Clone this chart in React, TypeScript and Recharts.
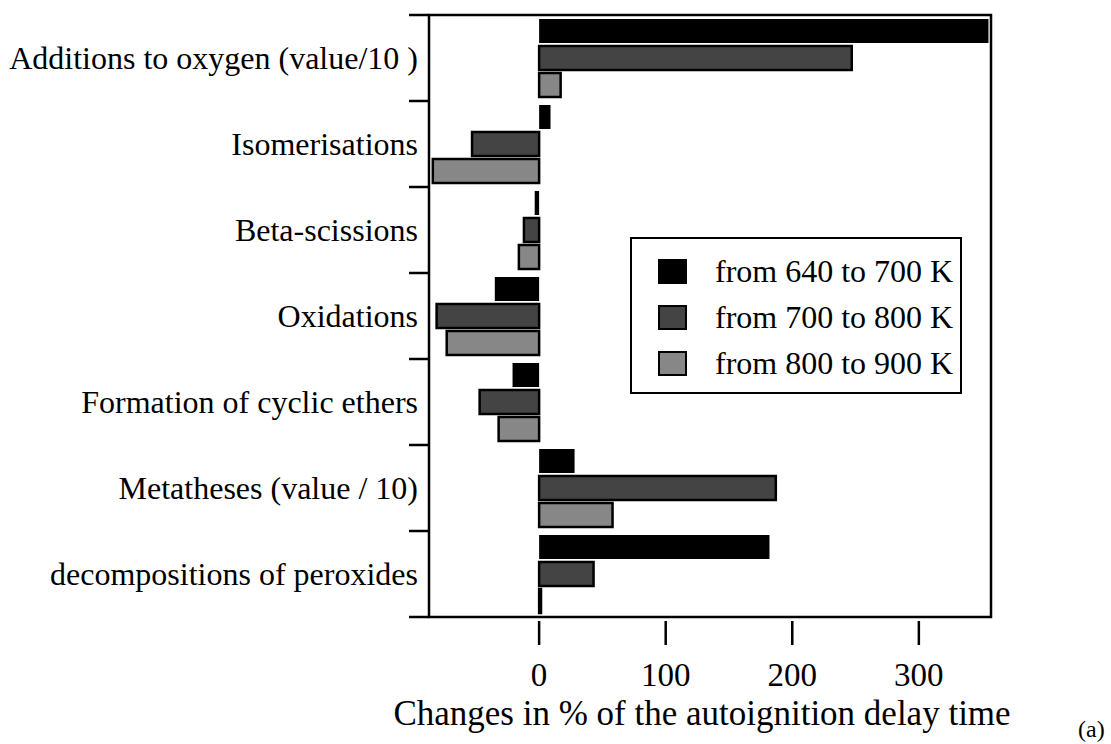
import {
  Bar,
  BarChart,
  Legend,
  ReferenceArea,
  XAxis,
  YAxis,
} from "recharts";

const categories = [
  "Additions to oxygen (value/10 )",
  "Isomerisations",
  "Beta-scissions",
  "Oxidations",
  "Formation of cyclic ethers",
  "Metatheses (value / 10)",
  "decompositions of peroxides",
];

// changes in % for each temperature range
const from640to700 = [355, 9, -3.5, -35, -21, 28, 182];
const from700to800 = [247, -53, -12, -81, -47, 187, 43];
const from800to900 = [17, -84, -16, -73, -32, 58, 1.5];

const xTicks = [0, 100, 200, 300];

const series = [
  { key: "a", name: "from 640 to 700 K", fill: "#000000", stroke: "none" },
  { key: "b", name: "from 700 to 800 K", fill: "#444444", stroke: "#000000" },
  { key: "c", name: "from 800 to 900 K", fill: "#878787", stroke: "#000000" },
];

const data = categories.map((name, i) => ({
  name,
  a: from640to700[i],
  b: from700to800[i],
  c: from800to900[i],
}));

const FONT = "'Liberation Serif', 'Times New Roman', serif";
const W = 1111;
const H = 744;
const TOP = 12;
const X_AXIS_H = 123;
const PAD_TOP = 3;
const PAD_BOTTOM = 4;
const BAND = (H - TOP - X_AXIS_H - PAD_TOP - PAD_BOTTOM) / categories.length;

const CategoryTick = (props: any) => {
  const { x, y, payload, index } = props;
  const last = index === categories.length - 1;
  return (
    <g>
      <line x1={x - 20} x2={x} y1={y - BAND / 2} y2={y - BAND / 2} stroke="#000" strokeWidth={2.5} />
      {last && (
        <line x1={x - 20} x2={x} y1={y + BAND / 2} y2={y + BAND / 2} stroke="#000" strokeWidth={2.5} />
      )}
      <text
        x={x - 11}
        y={y}
        dy="0.33em"
        textAnchor="end"
        fontFamily={FONT}
        fontSize={32}
        fill="#000"
      >
        {payload.value}
      </text>
    </g>
  );
};

const renderLegend = (props: any) => {
  const { payload } = props;
  return (
    <div
      style={{
        width: 332,
        height: 157,
        boxSizing: "border-box",
        border: "2px solid #000",
        background: "#fff",
        fontFamily: FONT,
        fontSize: 32,
        color: "#000",
        position: "relative",
      }}
    >
      {payload.map((entry: any, i: number) => {
        const s = series.find((d) => d.key === entry.dataKey) || series[i];
        return (
          <div
            key={i}
            style={{
              position: "absolute",
              left: 26,
              top: 32 + i * 46 - 20,
              height: 40,
              display: "flex",
              alignItems: "center",
              whiteSpace: "nowrap",
            }}
          >
            <span
              style={{
                display: "inline-block",
                width: 29,
                height: 25,
                boxSizing: "border-box",
                background: s.fill,
                border: s.stroke === "none" ? "none" : "2.5px solid #000",
                marginRight: 28,
              }}
            />
            <span style={{ lineHeight: "40px" }}>{entry.value}</span>
          </div>
        );
      })}
    </div>
  );
};

const AxisTitle = (props: any) => {
  const { viewBox } = props;
  const cx = viewBox.x + viewBox.width / 2 - 8;
  return (
    <g>
      <text x={cx} y={725} textAnchor="middle" fontFamily={FONT} fontSize={35} fill="#000">
        Changes in % of the autoignition delay time
      </text>
      <text x={1078} y={737} fontFamily={FONT} fontSize={24} fill="#000">
        (a)
      </text>
    </g>
  );
};

export default function App() {
  return (
    <div style={{ position: "absolute", left: 0, top: 0, background: "#fff" }}>
      <BarChart
        width={W}
        height={H}
        data={data}
        layout="vertical"
        margin={{ top: TOP, right: 120, left: 0, bottom: 0 }}
        barCategoryGap={4}
        barGap={3}
      >
        <XAxis
          type="number"
          domain={[-87, 357]}
          ticks={xTicks}
          height={X_AXIS_H}
          axisLine={false}
          tickLine={{ stroke: "#000", strokeWidth: 2.5 }}
          tickSize={24}
          tickMargin={18}
          tick={{ fontFamily: FONT, fontSize: 33, fill: "#000" }}
          label={<AxisTitle />}
        />
        <YAxis
          type="category"
          dataKey="name"
          width={429}
          axisLine={false}
          tickLine={false}
          tickSize={0}
          tickMargin={0}
          padding={{ top: PAD_TOP, bottom: PAD_BOTTOM }}
          interval={0}
          tick={<CategoryTick />}
        />
        <Legend
          layout="vertical"
          verticalAlign="middle"
          align="center"
          wrapperStyle={{ left: 630, top: 237, width: 332 }}
          content={renderLegend}
        />
        {series.map((s) => (
          <Bar
            key={s.key}
            dataKey={s.key}
            name={s.name}
            fill={s.fill}
            stroke={s.stroke}
            strokeWidth={2.5}
            isAnimationActive={false}
          />
        ))}
        <ReferenceArea
          x1={-87}
          x2={357}
          fill="none"
          stroke="#000"
          strokeWidth={2.5}
          ifOverflow="visible"
        />
      </BarChart>
    </div>
  );
}
